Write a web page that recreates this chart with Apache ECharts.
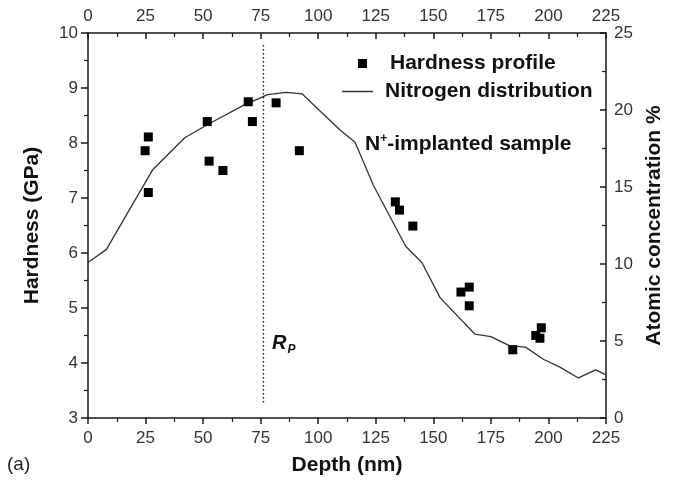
<!DOCTYPE html>
<html><head><meta charset="utf-8">
<script src="https://cdn.jsdelivr.net/npm/echarts@6/dist/echarts.min.js"></script>
<style>html,body{margin:0;padding:0;background:#fff}#c{width:677px;height:483px}</style>
</head><body><div id="c"></div>
<script>
// Hardness profile (depth nm, hardness GPa)
var hardDepth = [24.8, 26.2, 26.2, 51.8, 52.6, 58.6, 69.6, 71.4, 81.7, 91.8, 133.5, 135.3, 141.1, 162.0, 165.6, 165.6, 184.5, 194.5, 196.3, 196.9];
var hardValue = [7.86, 8.11, 7.10, 8.39, 7.67, 7.50, 8.75, 8.39, 8.73, 7.86, 6.93, 6.78, 6.49, 5.29, 5.38, 5.04, 4.24, 4.50, 4.45, 4.64];
// Nitrogen distribution (depth nm, atomic concentration %)
var nDepth = [0, 8, 28, 42, 49, 55, 67.5, 78, 86, 93, 101, 109.5, 116, 124, 138, 145, 153, 168, 175, 183, 190, 198, 205, 213, 220.5, 225];
var nValue = [10.1, 10.95, 16.1, 18.2, 18.8, 19.3, 20.3, 21.0, 21.15, 21.05, 19.9, 18.7, 17.9, 15.1, 11.15, 10.1, 7.8, 5.45, 5.28, 4.7, 4.6, 3.8, 3.3, 2.6, 3.13, 2.8];
// Rp marker line (depth, hardness range)
var rpDepth = 76.2;
var rpRange = [9.78, 3.27];
// Axis ranges / ticks
var depthMin = 0, depthMax = 225, depthStep = 25;
var hardMin = 3, hardMax = 10, hardStep = 1;
var concMin = 0, concMax = 25, concStep = 5;

var hardData = hardDepth.map(function(d, i){ return [d, hardValue[i]]; });
var nData = nDepth.map(function(d, i){ return [d, nValue[i]]; });
var rpData = rpRange.map(function(v){ return [rpDepth, v]; });

var FONT = 'Liberation Sans, Arial, sans-serif';
var axisCol = '#1a1a1a';
var labelStyle = {fontFamily: FONT, fontSize: 17, color: '#333'};
var titleStyle = {fontFamily: FONT, fontSize: 21, fontWeight: 'bold', color: '#111'};

function xAx(pos, inside) {
  return {
    type: 'value', position: pos, min: depthMin, max: depthMax, interval: depthStep,
    splitLine: {show: false},
    axisLine: {show: true, onZero: false, lineStyle: {color: axisCol, width: 1.5}},
    axisTick: {show: true, inside: inside, length: 6, lineStyle: {color: axisCol, width: 1.5}},
    minorTick: {show: true, splitNumber: 2, length: 4, lineStyle: {color: axisCol, width: 1.2}},
    axisLabel: Object.assign({margin: pos === 'top' ? 8 : 12}, labelStyle),
    name: pos === 'bottom' ? 'Depth (nm)' : '',
    nameLocation: 'middle', nameGap: 37,
    nameTextStyle: titleStyle
  };
}

var option = {
  animation: false,
  backgroundColor: '#fff',
  grid: {left: 88, right: 71, top: 33, bottom: 65},
  xAxis: [xAx('bottom', false), xAx('top', true)],
  yAxis: [
    {
      type: 'value', position: 'left', min: hardMin, max: hardMax, interval: hardStep,
      splitLine: {show: false},
      axisLine: {show: true, onZero: false, lineStyle: {color: axisCol, width: 1.5}},
      axisTick: {show: true, inside: false, length: 7, lineStyle: {color: axisCol, width: 1.5}},
      minorTick: {show: true, splitNumber: 2, length: 4, lineStyle: {color: axisCol, width: 1.2}},
      axisLabel: Object.assign({margin: 10}, labelStyle),
      name: 'Hardness (GPa)', nameLocation: 'middle', nameGap: 45, nameRotate: 90,
      nameTextStyle: titleStyle
    },
    {
      type: 'value', position: 'right', min: concMin, max: concMax, interval: concStep,
      splitLine: {show: false},
      axisLine: {show: true, onZero: false, lineStyle: {color: axisCol, width: 1.5}},
      axisTick: {show: true, inside: true, length: 6, lineStyle: {color: axisCol, width: 1.5}},
      minorTick: {show: true, splitNumber: 2, length: 4, lineStyle: {color: axisCol, width: 1.2}},
      axisLabel: Object.assign({margin: 8}, labelStyle),
      name: 'Atomic concentration %', nameLocation: 'middle', nameGap: 37, nameRotate: 90,
      nameTextStyle: titleStyle
    }
  ],
  legend: [
    {
      data: [{name: 'Hardness profile', icon: 'rect'}], left: 358, top: 53, padding: 0,
      itemWidth: 9, itemHeight: 9,
      itemStyle: {color: '#000', opacity: 1},
      textStyle: {fontFamily: FONT, fontSize: 21, fontWeight: 'bold', color: '#111', padding: [0, 0, 0, 18]}
    },
    {
      data: [{name: 'Nitrogen distribution', icon: 'rect'}], left: 342, top: 81, padding: 0,
      itemWidth: 31, itemHeight: 1.5,
      itemStyle: {color: '#333'},
      textStyle: {fontFamily: FONT, fontSize: 21, fontWeight: 'bold', color: '#111', padding: [0, 0, 0, 7]}
    }
  ],
  series: [
    {
      name: 'Nitrogen distribution', type: 'line', xAxisIndex: 0, yAxisIndex: 1,
      data: nData, symbol: 'none', smooth: false,
      lineStyle: {color: '#333', width: 1.3}, itemStyle: {color: '#333'}, z: 2
    },
    {
      name: 'Hardness profile', type: 'scatter', xAxisIndex: 0, yAxisIndex: 0,
      data: hardData, symbol: 'rect', symbolSize: 9,
      itemStyle: {color: '#000', opacity: 1}, z: 3
    },
    {
      name: 'Rp', type: 'line', xAxisIndex: 0, yAxisIndex: 0,
      data: rpData, symbol: 'none',
      lineStyle: {color: '#222', width: 1.5, type: [1.5, 2.5]}, z: 1
    }
  ],
  graphic: [
    {type: 'text', left: 365, top: 133, style: {
      rich: {
        n: {fontFamily: FONT, fontSize: 21, fontWeight: 'bold', fill: '#111'},
        s: {fontFamily: FONT, fontSize: 12, fontWeight: 'bold', fill: '#111', verticalAlign: 'top', padding: [0, 0, 10, 0]}
      },
      text: '{n|N}{s|+}{n|-implanted sample}'
    }},
    {type: 'text', left: 272, top: 333, style: {
      rich: {
        r: {fontFamily: FONT, fontSize: 20, fontWeight: 'bold', fontStyle: 'italic', fill: '#111'},
        p: {fontFamily: FONT, fontSize: 12, fontWeight: 'bold', fontStyle: 'italic', fill: '#111', padding: [13, 0, 0, 1]}
      },
      text: '{r|R}{p|P}'
    }},
    {type: 'text', left: 7, top: 455, style: {text: '(a)', fontFamily: FONT, fontSize: 19, fill: '#222'}}
  ]
};
echarts.init(document.getElementById('c')).setOption(option);
</script></body></html>
